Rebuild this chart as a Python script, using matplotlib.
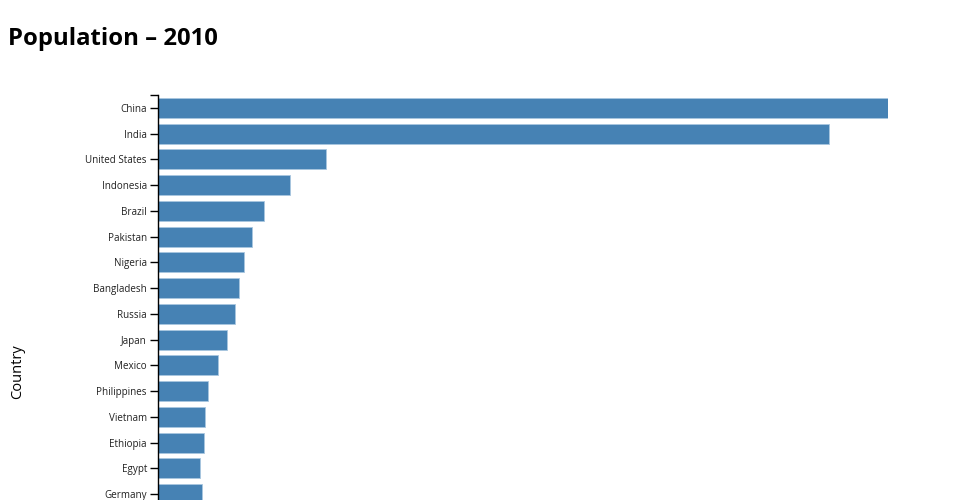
import numpy as np
import matplotlib.pyplot as plt

plt.rcParams['font.family'] = ['Open Sans', 'DejaVu Sans']

countries = ["China", "India", "United States", "Indonesia", "Brazil", "Pakistan",
             "Nigeria", "Bangladesh", "Russia", "Japan", "Mexico", "Philippines",
             "Vietnam", "Ethiopia", "Egypt", "Germany"]
# population in millions, 2010
population = [1341, 1232, 309, 243, 195, 173, 158, 148, 142, 127, 111, 92, 86, 85, 77, 81]

W, H = 960, 500
fig = plt.figure(figsize=(W / 100, H / 100), dpi=100)

step = 25.75
top = 95
n = len(countries)
ax = fig.add_axes([158 / W, 1 - (top + n * step) / H, 730 / W, n * step / H])

y = np.arange(n)
ax.barh(y, population, height=0.78, color='#4682b4', edgecolor='#a9c6e0', linewidth=0.6)

ax.set_xlim(0, max(population))
ax.set_ylim(n - 0.5, -0.5)
ax.set_yticks(y)
ax.set_yticklabels(countries, fontsize=7.1)
ax.set_yticks([-0.5], minor=True)
ax.tick_params(axis='y', which='both', length=6, width=1, pad=2, colors='black')
ax.tick_params(axis='y', labelcolor='#222222')
ax.set_xticks([])
for s in ['top', 'right', 'bottom']:
    ax.spines[s].set_visible(False)
ax.spines['left'].set_linewidth(1)

fig.text(8 / W, 1 - 39 / H, "Population \u2013 2010", fontsize=17.2, fontweight='bold',
         va='center', ha='left')
fig.text(18 / W, 1 - 372 / H, "Country", fontsize=10.5, rotation=90,
         va='center', ha='center')

fig.savefig("out.png", dpi=100)
